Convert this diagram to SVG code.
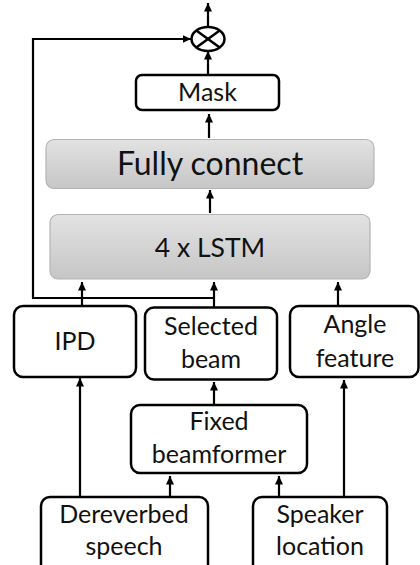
<svg xmlns="http://www.w3.org/2000/svg" width="420" height="565" viewBox="0 0 420 565">
<defs>
<linearGradient id="g" x1="0" y1="0" x2="0" y2="1">
<stop offset="0" stop-color="#e2e2e2"/>
<stop offset="1" stop-color="#c6c6c6"/>
</linearGradient>
<marker id="ah" markerUnits="userSpaceOnUse" markerWidth="10" markerHeight="9" refX="8.5" refY="4" orient="auto">
<path d="M0,0 L8.5,4 L0,8 z" fill="#000"/>
</marker>
<style>
.box{fill:#fff;stroke:#000;stroke-width:2.5}
.gbox{fill:url(#g);stroke:#b4b4b4;stroke-width:1.2}
.t{font-family:Lato,"Open Sans","Liberation Sans",sans-serif;fill:#111;text-anchor:middle;font-size:25px}
.big{font-size:32px}
.mid{font-size:26.5px}
.c{fill:none;stroke:#000;stroke-width:2.2}
.a{marker-end:url(#ah)}
</style>
</defs>
<rect width="420" height="565" fill="#fff"/>
<g id="mult">
<ellipse cx="208" cy="39" rx="16.5" ry="12" fill="#fff" stroke="#000" stroke-width="2.5"/>
<line x1="196.3" y1="30.5" x2="219.7" y2="47.5" stroke="#000" stroke-width="2.5"/>
<line x1="196.3" y1="47.5" x2="219.7" y2="30.5" stroke="#000" stroke-width="2.5"/>
</g>
<g id="mask">
<rect class="box" x="136" y="75" width="143" height="35" rx="6"/>
<text class="t" x="207.5" y="101">Mask</text>
</g>
<g id="fc">
<rect class="gbox" x="46" y="139.5" width="328" height="49" rx="8"/>
<text class="t big" x="210" y="175">Fully connect</text>
</g>
<g id="lstm">
<rect class="gbox" x="50" y="214.5" width="320" height="64.5" rx="8"/>
<text class="t mid" x="210" y="256.5">4 x LSTM</text>
</g>
<g id="ipd">
<rect class="box" x="14" y="306" width="122" height="71" rx="9"/>
<text class="t" x="75" y="350">IPD</text>
</g>
<g id="selected">
<rect class="box" x="145" y="307.5" width="132" height="72" rx="9"/>
<text class="t" x="211" y="335">Selected</text>
<text class="t" x="211" y="368">beam</text>
</g>
<g id="angle">
<rect class="box" x="290" y="306" width="128.5" height="71" rx="9"/>
<text class="t" x="355" y="333">Angle</text>
<text class="t" x="355" y="367">feature</text>
</g>
<g id="fixed">
<rect class="box" x="131" y="405" width="176" height="68" rx="9"/>
<text class="t" x="219" y="430">Fixed</text>
<text class="t" x="219" y="463">beamformer</text>
</g>
<g id="dereverbed">
<rect class="box" x="41" y="497" width="167" height="80" rx="9"/>
<text class="t" x="124" y="523">Dereverbed</text>
<text class="t" x="124" y="555">speech</text>
</g>
<g id="speaker">
<rect class="box" x="253" y="497" width="134" height="80" rx="9"/>
<text class="t" x="320" y="523">Speaker</text>
<text class="t" x="320" y="555">location</text>
</g>
<g id="connectors">
<line class="c a" x1="208" y1="26" x2="208" y2="3"/>
<line class="c a" x1="208" y1="74" x2="208" y2="51"/>
<line class="c a" x1="209" y1="138" x2="209" y2="114"/>
<line class="c a" x1="210" y1="213" x2="210" y2="190"/>
<path class="c a" d="M33,298 V39 H191"/>
<line class="c" x1="32" y1="298" x2="215" y2="298"/>
<line class="c a" x1="82" y1="306" x2="82" y2="282"/>
<line class="c a" x1="214" y1="307" x2="214" y2="282"/>
<line class="c a" x1="338" y1="306" x2="338" y2="282"/>
<line class="c a" x1="214" y1="404" x2="214" y2="382"/>
<line class="c a" x1="80" y1="496" x2="80" y2="378"/>
<line class="c a" x1="170" y1="496" x2="170" y2="476"/>
<line class="c a" x1="279" y1="496" x2="279" y2="476"/>
<line class="c a" x1="344" y1="496" x2="344" y2="380"/>
</g>
</svg>
